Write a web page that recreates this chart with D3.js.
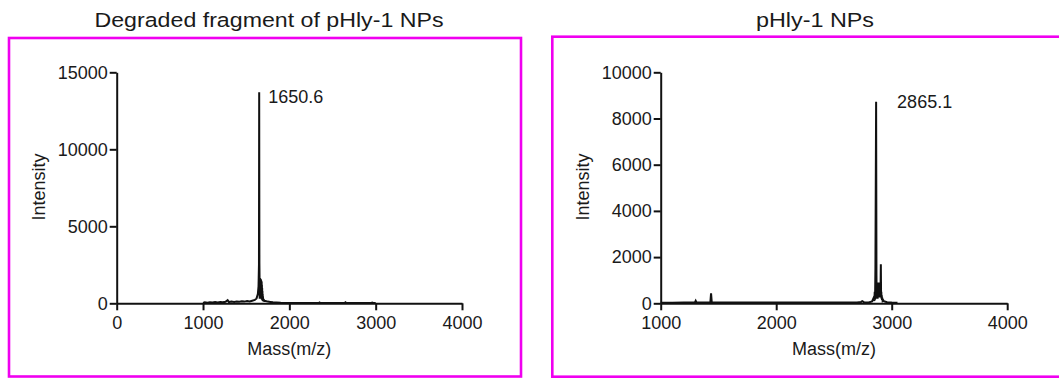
<!DOCTYPE html>
<html>
<head>
<meta charset="utf-8">
<script src="https://cdn.jsdelivr.net/npm/d3@7"></script>
<style>
  html, body { margin: 0; padding: 0; background: #fff; }
  svg { display: block; }
  text { font-family: "Liberation Sans", Arial, sans-serif; fill: #1a1a1a; }
</style>
</head>
<body>
<svg id="chart" width="1059" height="378"></svg>
<script>
// ---------- data ----------
const panelTitles = ["Degraded fragment of pHly-1 NPs", "pHly-1 NPs"];
const xAxisLabel = "Mass(m/z)";
const yAxisLabel = "Intensity";

const leftXTicks = [0, 1000, 2000, 3000, 4000];
const leftYTicks = [0, 5000, 10000, 15000];
const rightXTicks = [1000, 2000, 3000, 4000];
const rightYTicks = [0, 2000, 4000, 6000, 8000, 10000];

const leftPeakLabel = { mass: 1650.6, intensity: 13700, text: "1650.6" };
const rightPeakLabel = { mass: 2865.1, intensity: 8730, text: "2865.1" };

// [mass, intensity]
const leftSpectrum = [
  [1000,20],[1020,60],[1050,40],[1080,70],[1110,50],[1140,80],[1170,60],[1200,90],
  [1230,70],[1260,100],[1285,200],[1300,80],[1330,110],[1360,90],[1390,120],[1420,100],
  [1450,130],[1480,110],[1510,150],[1540,120],[1570,170],[1600,220],[1620,320],[1635,600],
  [1643,1100],[1648,2500],[1650.6,13700],[1653,2600],[1655,1500],[1656.5,300],[1658,1650],
  [1659.5,400],[1661,1620],[1662.5,350],[1664,1600],[1665.5,300],[1667,1580],[1668.5,350],
  [1670,1550],[1671.5,300],[1673,1500],[1674.5,300],[1676,1450],[1677.5,300],[1679,1400],
  [1680.5,250],[1682,1200],[1683.5,250],[1685,1000],[1686.5,200],[1688,800],[1689.5,200],
  [1691,600],[1692.5,150],[1694,450],[1696,150],[1698,300],[1700,120],[1705,250],
  [1710,150],[1725,150],[1750,110],[1780,90],[1810,70],[1850,60],[1900,30],[2000,20],
  [2100,20],[2200,20],[2340,20],[2350,60],[2360,20],[2640,20],[2650,70],[2660,20],
  [2950,20],[2960,50],[2970,20],[3000,15]
];

const rightSpectrum = [
  [1000,20],[1100,20],[1200,30],[1295,30],[1303,110],[1311,30],[1400,30],[1430,40],
  [1436,430],[1442,40],[1500,30],[1700,30],[1900,30],[2100,30],[2300,30],[2500,35],
  [2700,40],[2735,60],[2745,90],[2760,50],[2800,40],[2830,80],[2845,250],[2850,100],
  [2853,500],[2856,150],[2859,1500],[2865.1,8730],[2868,1200],[2870,200],[2872,900],
  [2874,250],[2876,700],[2878,200],[2880,600],[2882,250],[2884,700],[2886,300],
  [2888,900],[2890,300],[2892,700],[2894,250],[2896,600],[2898,250],[2900,500],
  [2902,300],[2904,800],[2906,1690],[2908,400],[2910,500],[2912,200],[2914,350],
  [2916,150],[2918,250],[2921,120],[2925,150],[2932,90],[2940,80],[2960,50],
  [3000,30],[3050,20]
];

// ---------- drawing ----------
const svg = d3.select("#chart");
const magenta = "#f000f0";

// panel borders
svg.append("rect").attr("x", 9).attr("y", 38).attr("width", 512).attr("height", 338.5)
  .attr("fill", "none").attr("stroke", magenta).attr("stroke-width", 2.6);
svg.append("rect").attr("x", 552.3).attr("y", 36.7).attr("width", 520).attr("height", 340)
  .attr("fill", "none").attr("stroke", magenta).attr("stroke-width", 2.6);

// titles
svg.append("text").attr("x", 269).attr("y", 27).attr("text-anchor", "middle")
  .attr("font-size", 20.5).attr("textLength", 349).attr("lengthAdjust", "spacingAndGlyphs")
  .text(panelTitles[0]);
svg.append("text").attr("x", 815).attr("y", 27).attr("text-anchor", "middle")
  .attr("font-size", 20.5).attr("textLength", 118).attr("lengthAdjust", "spacingAndGlyphs")
  .text(panelTitles[1]);

function drawPanel(cfg) {
  const x = d3.scaleLinear().domain(cfg.xDomain).range([cfg.x0, cfg.x1]);
  const y = d3.scaleLinear().domain(cfg.yDomain).range([303.3, 72.3]);
  const g = svg.append("g");

  const xAxis = g.append("g").attr("transform", `translate(0,${y(0)})`)
    .call(d3.axisBottom(x).tickValues(cfg.xTicks).tickSize(7).tickSizeOuter(0).tickPadding(5).tickFormat(d3.format("d")));
  const yAxis = g.append("g").attr("transform", `translate(${x(cfg.xDomain[0])},0)`)
    .call(d3.axisLeft(y).tickValues(cfg.yTicks).tickSize(7).tickSizeOuter(0).tickPadding(2).tickFormat(d3.format("d")));

  [xAxis, yAxis].forEach(a => {
    a.select(".domain").attr("stroke", "#111").attr("stroke-width", 2);
    a.selectAll(".tick line").attr("stroke", "#111").attr("stroke-width", 2);
    a.selectAll(".tick text").attr("font-size", 18).attr("fill", "#1a1a1a")
      .attr("font-family", "Liberation Sans, Arial, sans-serif");
  });
  xAxis.selectAll(".tick text").attr("dy", "0.78em");

  const line = d3.line().x(d => x(d[0])).y(d => y(d[1]));
  g.append("path").datum(cfg.data).attr("d", line)
    .attr("fill", "none").attr("stroke", "#111").attr("stroke-width", 2)
    .attr("stroke-linejoin", "miter");

  g.append("text").attr("x", x(cfg.peak.mass) + cfg.labelDx).attr("y", y(cfg.peak.intensity) + cfg.labelDy)
    .attr("font-size", 18).text(cfg.peak.text);

  g.append("text").attr("x", (cfg.x0 + cfg.x1) / 2).attr("y", 355).attr("text-anchor", "middle")
    .attr("font-size", 18).text(xAxisLabel);
  g.append("text").attr("transform", `translate(${cfg.yLabelX},187) rotate(-90)`)
    .attr("text-anchor", "middle").attr("font-size", 18).text(yAxisLabel);
}

drawPanel({
  xDomain: [0, 4000], yDomain: [0, 15000], x0: 116.7, x1: 462,
  xTicks: leftXTicks, yTicks: leftYTicks, data: leftSpectrum, peak: leftPeakLabel,
  labelDx: 9, labelDy: 11, yLabelX: 45
});
drawPanel({
  xDomain: [1000, 4000], yDomain: [0, 10000], x0: 660.7, x1: 1007.2,
  xTicks: rightXTicks, yTicks: rightYTicks, data: rightSpectrum, peak: rightPeakLabel,
  labelDx: 21, labelDy: 6.5, yLabelX: 589
});
</script>
</body>
</html>
